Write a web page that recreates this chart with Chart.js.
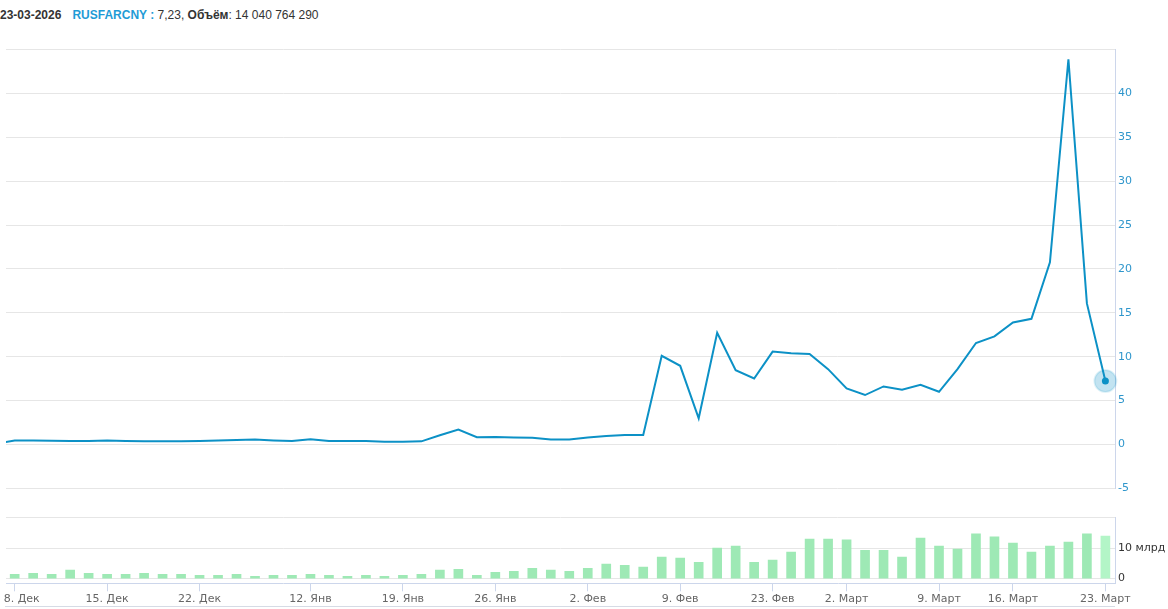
<!DOCTYPE html>
<html>
<head>
<meta charset="utf-8">
<title>RUSFARCNY</title>
<script src="https://cdn.jsdelivr.net/npm/chart.js@4.4.1/dist/chart.umd.min.js"></script>
<style>
  body { margin: 0; background: #fff; width: 1168px; height: 609px; overflow: hidden; position: relative; }
  #head { position: absolute; left: 0; top: 8px; font-family: "Liberation Sans", Arial, sans-serif; font-size: 12px; line-height: 14px; color: #333; white-space: pre; }
  #head .tick { color: #1f9bd6; margin-left: 11px; }
  #priceChart { position: absolute; left: 0; top: 40px; }
  #volChart { position: absolute; left: 0; top: 500px; }
  #nav { position: absolute; left: 5px; top: 606px; width: 1110px; height: 1px; background: #d6dbe5; }
</style>
</head>
<body>

<div id="head"><b>23-03-2026</b><b class="tick">RUSFARCNY :</b> 7,23, <b>Объём</b>: 14 040 764 290</div>
<canvas id="priceChart" width="1168" height="460"></canvas>
<canvas id="volChart" width="1168" height="109"></canvas>
<div id="nav"></div>

<script>
// trading days, first one (05.12) sits just left of the visible area
const dates = [
  '05.12',
  '08.12', '09.12', '10.12', '11.12', '12.12',
  '15.12', '16.12', '17.12', '18.12', '19.12',
  '22.12', '23.12', '24.12', '25.12', '26.12', '29.12',
  '12.01', '13.01', '14.01', '15.01', '16.01',
  '19.01', '20.01', '21.01', '22.01', '23.01',
  '26.01', '27.01', '28.01', '29.01', '30.01',
  '02.02', '03.02', '04.02', '05.02', '06.02',
  '09.02', '10.02', '11.02', '12.02', '13.02',
  '24.02', '25.02', '26.02', '27.02',
  '02.03', '03.03', '04.03', '05.03', '06.03',
  '10.03', '11.03', '12.03', '13.03',
  '16.03', '17.03', '18.03', '19.03', '20.03',
  '23.03'
];

const closes = [
  0.10,
  0.45, 0.45, 0.42, 0.40, 0.40,
  0.45, 0.40, 0.35, 0.35, 0.35,
  0.40, 0.45, 0.50, 0.55, 0.45, 0.38,
  0.60, 0.40, 0.40, 0.40, 0.30,
  0.30, 0.35, 1.05, 1.70, 0.83,
  0.85, 0.80, 0.75, 0.57, 0.57,
  0.80, 0.95, 1.08, 1.08, 10.1,
  8.96, 2.98, 12.73, 8.47, 7.52,
  10.58, 10.4, 10.32, 8.58,
  6.38, 5.63, 6.61, 6.24, 6.80,
  6.00, 8.58, 11.56, 12.32,
  13.9, 14.32, 20.75, 43.9, 16.07,
  7.23
];

// volume, млрд
const volumes = [
  1.4,
  1.44, 1.78, 1.44, 2.78, 1.78,
  1.44, 1.44, 1.78, 1.44, 1.44,
  1.11, 1.11, 1.44, 0.78, 1.11, 1.11,
  1.44, 1.11, 0.78, 1.11, 0.78,
  1.11, 1.44, 2.78, 3.1, 1.11,
  2.1, 2.4, 3.4, 2.8, 2.4,
  3.4, 4.8, 4.4, 3.8, 7.1,
  6.8, 5.4, 10.1, 10.8, 5.4,
  6.1, 8.8, 13.1, 13.1,
  12.8, 9.4, 9.4, 7.1, 13.4,
  10.8, 9.8, 14.8, 13.8,
  11.8, 8.8, 10.8, 12.1, 14.8,
  14.04
];

const tickIdx = [1, 6, 11, 17, 22, 27, 32, 37, 42, 46, 51, 55, 60];
const tickLabels = ['8. Дек', '15. Дек', '22. Дек', '12. Янв', '19. Янв', '26. Янв', '2. Фев', '9. Фев', '23. Фев', '2. Март', '9. Март', '16. Март', '23. Март'];

const lineColor = '#0c91c6';
const barColor = '#9ee9b5';
const xMin = 0.53, xMax = 60.52;
const last = closes.length - 1;

Chart.defaults.font.family = '"DejaVu Sans", sans-serif';
Chart.defaults.font.size = 11;

new Chart(document.getElementById('priceChart'), {
  type: 'line',
  data: {
    datasets: [
      {
        data: closes.map((v, i) => ({ x: i, y: v })),
        borderColor: lineColor,
        borderWidth: 2,
        tension: 0,
        pointRadius: closes.map((v, i) => i === last ? 3.5 : 0),
        pointBackgroundColor: lineColor,
        pointBorderWidth: 0,
        order: 1
      },
      {
        // halo round the last point
        data: [{ x: last, y: closes[last] }],
        showLine: false,
        pointRadius: 11,
        pointBackgroundColor: 'rgba(12,145,198,0.25)',
        pointBorderColor: 'rgba(12,145,198,0.12)',
        pointBorderWidth: 2,
        clip: false,
        order: 2
      }
    ]
  },
  options: {
    responsive: false,
    animation: false,
    devicePixelRatio: 1,
    layout: { padding: { left: 6, top: 7.3, right: 0, bottom: 11.7 }, autoPadding: false },
    plugins: { legend: { display: false }, tooltip: { enabled: false } },
    scales: {
      x: { type: 'linear', min: xMin, max: xMax, display: false },
      y: {
        position: 'right',
        min: -5,
        max: 45,
        afterFit: s => { s.width = 53; },
        grid: { color: '#e6e6e6', drawTicks: false },
        border: { color: '#ccd6eb' },
        ticks: { stepSize: 5, padding: 3, color: '#2f96cc', callback: v => v === 45 ? '' : v }
      }
    }
  }
});

new Chart(document.getElementById('volChart'), {
  type: 'bar',
  data: {
    datasets: [{
      data: volumes.map((v, i) => ({ x: i, y: v })),
      backgroundColor: volumes.map((v, i) => i === last ? '#b3f5c7' : barColor),
      barThickness: 9
    }]
  },
  options: {
    responsive: false,
    animation: false,
    devicePixelRatio: 1,
    layout: { padding: { left: 6, top: 17.3, right: 0, bottom: 0 }, autoPadding: false },
    plugins: { legend: { display: false }, tooltip: { enabled: false } },
    scales: {
      x: {
        type: 'linear',
        min: xMin,
        max: xMax,
        offset: false,
        afterBuildTicks: s => { s.ticks = tickIdx.map(v => ({ value: v })); },
        // keep the plot edges where the price chart has them
        afterFit: s => { s.height = 25.7; s.paddingLeft = 0; s.paddingRight = 0; },
        grid: { drawOnChartArea: false, offset: false, color: '#ccd6eb', tickLength: 8 },
        border: { color: '#ccd6eb' },
        ticks: {
          autoSkip: false,
          maxRotation: 0,
          padding: 1,
          color: '#666',
          // first label is pushed right so it stays inside, like the original
          callback: (v, i) => i === 0 ? '    ' + tickLabels[i] : tickLabels[i]
        }
      },
      y: {
        position: 'right',
        min: -1.56,
        max: 20.3,
        afterBuildTicks: s => { s.ticks = [0, 10, 20.3].map(v => ({ value: v })); },
        afterFit: s => { s.width = 53; },
        grid: { color: '#e6e6e6', drawTicks: false },
        border: { color: '#ccd6eb' },
        ticks: { padding: 3, color: '#333', callback: v => v === 0 ? '0' : v === 10 ? '10 млрд' : '' }
      }
    }
  }
});
</script>
</body>
</html>
